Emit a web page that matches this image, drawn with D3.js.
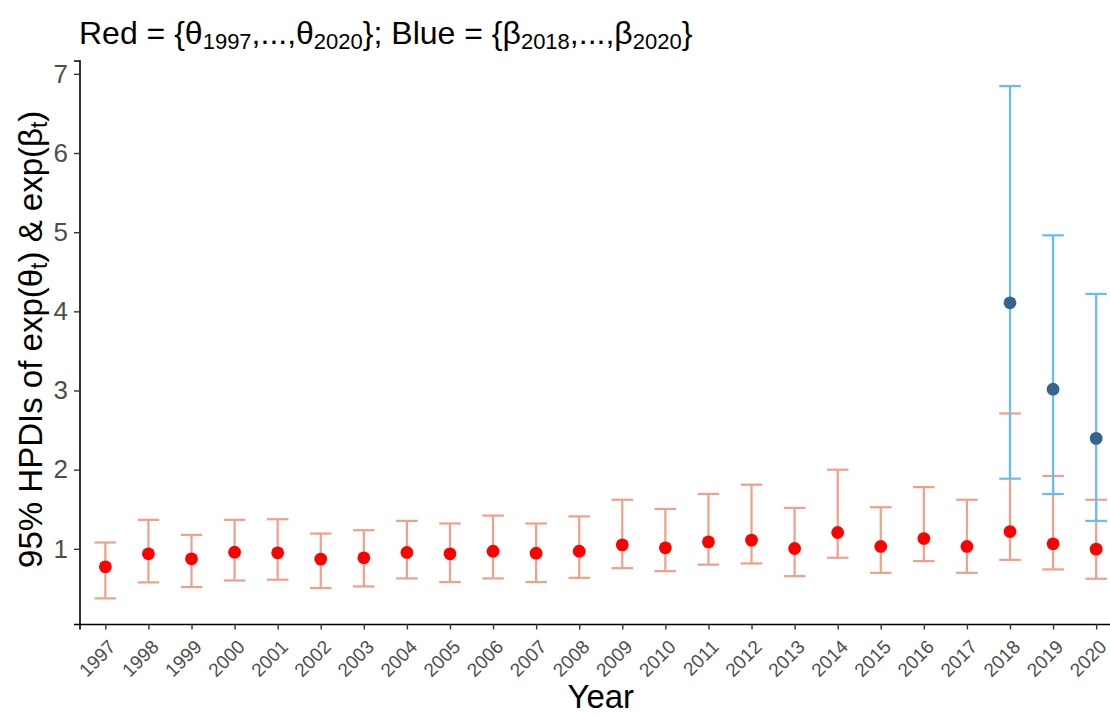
<!DOCTYPE html>
<html>
<head>
<meta charset="utf-8">
<script src="https://cdn.jsdelivr.net/npm/d3@7"></script>
<style>
  body { margin: 0; background: #fff; }
  text { font-family: "Liberation Sans", Arial, sans-serif; }
</style>
</head>
<body>
<div id="my_dataviz"></div>
<script>
// years on the x axis
const years = d3.range(1997, 2021).map(String);

// theta (red) HPDI: lower, point, upper
const thetaLow = [0.374, 0.576, 0.517, 0.600, 0.610, 0.504, 0.525, 0.626, 0.580, 0.626, 0.580, 0.634,
                  0.756, 0.718, 0.800, 0.815, 0.655, 0.887, 0.697, 0.845, 0.697, 0.861, 0.740, 0.622];
const thetaMid = [0.773, 0.937, 0.874, 0.958, 0.950, 0.870, 0.887, 0.954, 0.937, 0.970, 0.945, 0.970,
                  1.050, 1.013, 1.088, 1.110, 1.004, 1.206, 1.030, 1.130, 1.030, 1.218, 1.063, 0.996];
const thetaUp  = [1.080, 1.366, 1.176, 1.366, 1.374, 1.193, 1.235, 1.353, 1.320, 1.420, 1.320, 1.410,
                  1.620, 1.504, 1.693, 1.810, 1.517, 2.000, 1.525, 1.780, 1.620, 2.710, 1.920, 1.620];

// beta (blue) HPDI for the last three years
const betaYears = ["2018", "2019", "2020"];
const betaLow = [1.886, 1.692, 1.353];
const betaMid = [4.108, 3.017, 2.395];
const betaUp  = [6.845, 4.960, 4.220];

const yTicks = [1, 2, 3, 4, 5, 6, 7];

const W = 1110, H = 715;
const margin = {top: 60.5, right: -12, bottom: 91, left: 79.5};
const width = W - margin.left - margin.right,
      height = H - margin.top - margin.bottom;

const svg = d3.select("#my_dataviz")
  .append("svg")
    .attr("width", W)
    .attr("height", H);

const g = svg.append("g")
    .attr("transform", `translate(${margin.left},${margin.top})`);

const red = years.map((d, i) => ({year: d, lo: thetaLow[i], mid: thetaMid[i], hi: thetaUp[i]}));
const blue = betaYears.map((d, i) => ({year: d, lo: betaLow[i], mid: betaMid[i], hi: betaUp[i]}));

// X axis (discrete, ggplot style 0.6 expansion)
const x = d3.scalePoint()
  .domain(years)
  .range([0, width])
  .padding(0.6);

// Y axis with 5% expansion
const yMin = d3.min(thetaLow), yMax = d3.max(betaUp);
const pad = (yMax - yMin) * 0.05;
const y = d3.scaleLinear()
  .domain([yMin - pad, yMax + pad])
  .range([height, 0]);

const capW = x.step() * 0.5;

function errorbars(data, color) {
  const eb = g.append("g").attr("stroke", color).attr("stroke-width", 2.2);
  eb.selectAll("line.v").data(data).join("line")
    .attr("x1", d => x(d.year)).attr("x2", d => x(d.year))
    .attr("y1", d => y(d.lo)).attr("y2", d => y(d.hi));
  eb.selectAll("line.lo").data(data).join("line")
    .attr("x1", d => x(d.year) - capW / 2).attr("x2", d => x(d.year) + capW / 2)
    .attr("y1", d => y(d.lo)).attr("y2", d => y(d.lo));
  eb.selectAll("line.hi").data(data).join("line")
    .attr("x1", d => x(d.year) - capW / 2).attr("x2", d => x(d.year) + capW / 2)
    .attr("y1", d => y(d.hi)).attr("y2", d => y(d.hi));
}

function points(data, color) {
  g.append("g").selectAll("circle").data(data).join("circle")
    .attr("cx", d => x(d.year))
    .attr("cy", d => y(d.mid))
    .attr("r", 6.4)
    .attr("fill", color);
}

errorbars(red, "#EFA088");
points(red, "#FF0000");
errorbars(blue, "#66BBFF");
points(blue, "#36648B");

// axes
const xAxis = g.append("g")
  .attr("transform", `translate(0, ${height})`)
  .call(d3.axisBottom(x).tickSize(5.5).tickPadding(4));
xAxis.select(".domain").attr("stroke", "#000").attr("stroke-width", 1.6);
xAxis.selectAll(".tick line").attr("stroke", "#333").attr("stroke-width", 1.4);
xAxis.selectAll(".tick text")
  .attr("fill", "#4D4D4D")
  .style("font-size", "19px")
  .attr("text-anchor", "end")
  .attr("dy", null)
  .attr("y", 0)
  .attr("transform", "translate(11,24) rotate(-45)");

const yAxis = g.append("g")
  .call(d3.axisLeft(y).tickValues(yTicks).tickSize(5.5).tickPadding(6));
yAxis.select(".domain").attr("stroke", "#000").attr("stroke-width", 1.6);
yAxis.selectAll(".tick line").attr("stroke", "#333").attr("stroke-width", 1.4);
yAxis.selectAll(".tick text")
  .attr("fill", "#4D4D4D")
  .style("font-size", "26px");

// text with subscripts: parts = [[text, isSub], ...]
function richText(el, parts, subSize, drop) {
  let level = 0;
  parts.forEach(([t, isSub]) => {
    const target = isSub ? drop : 0;
    const ts = el.append("tspan").attr("dy", target - level).text(t);
    if (isSub) ts.style("font-size", subSize + "px");
    level = target;
  });
}

// title
const title = svg.append("text")
  .attr("x", 79)
  .attr("y", 43.5)
  .style("font-size", "32px")
  .attr("fill", "#000");
richText(title, [
  ["Red = {θ", false], ["1997", true], [",...,θ", false], ["2020", true],
  ["}; Blue = {β", false], ["2018", true], [",...,β", false], ["2020", true], ["}", false]
], 22, 5);

// x label
svg.append("text")
  .attr("x", margin.left + width / 2)
  .attr("y", 708)
  .attr("text-anchor", "middle")
  .style("font-size", "33px")
  .text("Year");

// y label
const ylab = svg.append("text")
  .attr("transform", `translate(42, ${margin.top + height / 2 - 3}) rotate(-90)`)
  .attr("text-anchor", "middle")
  .style("font-size", "33px");
richText(ylab, [
  ["95% HPDIs of exp(θ", false], ["t", true], [") & exp(β", false], ["t", true], [")", false]
], 23, 5);
</script>
</body>
</html>
